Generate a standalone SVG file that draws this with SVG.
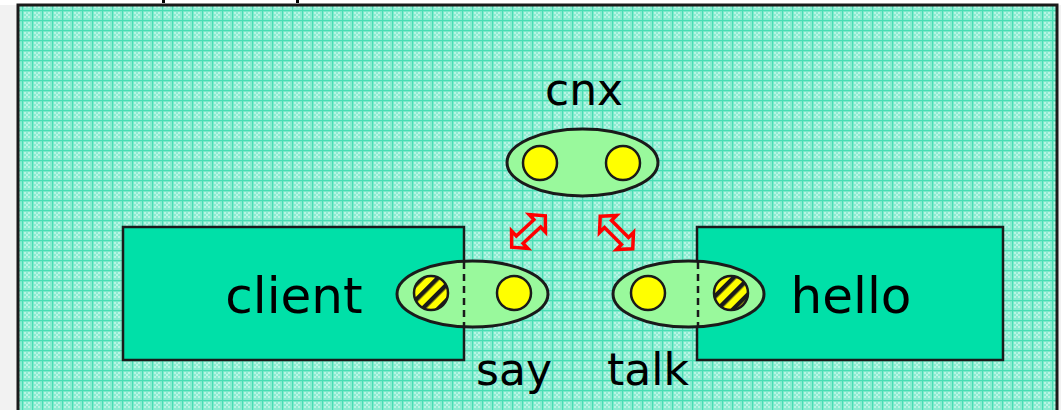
<svg xmlns="http://www.w3.org/2000/svg" width="1061" height="410" viewBox="0 0 1061 410">
  <style>
    .label { font-family: "DejaVu Sans", Verdana, sans-serif; fill: #000; }
    .box { fill: #00e0a8; stroke: #1a1a1a; stroke-width: 2.5; }
    .port { fill: #99f99c; stroke: #1a1a1a; stroke-width: 3; }
    .dot { fill: #ffff00; stroke: #1a1a1a; stroke-width: 2.5; }
    .hatched { fill: url(#stripes); stroke: #1a1a1a; stroke-width: 2.5; }
    .sep { stroke: #1a1a1a; stroke-width: 2.5; stroke-dasharray: 7 5; }
    .link { fill: none; stroke: #ff0000; stroke-width: 3.5; stroke-linejoin: miter; }
  </style>
  <defs>
    <!-- dithered mint grid used as the frame background -->
    <pattern id="grid" width="10" height="10" patternUnits="userSpaceOnUse" x="2" y="0">
      <rect width="10" height="10" fill="#8aecd1"/>
      <rect x="2" y="2" width="2" height="2" fill="#b8f5e4"/>
      <rect x="6" y="2" width="2" height="2" fill="#b8f5e4"/>
      <rect x="4" y="4" width="2" height="2" fill="#b8f5e4"/>
      <rect x="2" y="6" width="2" height="2" fill="#b8f5e4"/>
      <rect x="6" y="6" width="2" height="2" fill="#b8f5e4"/>
      <rect x="0" y="0" width="10" height="1.2" fill="#48ddb3"/>
      <rect x="0" y="0" width="1.2" height="10" fill="#48ddb3"/>
    </pattern>
    <!-- diagonal stripes for the required-interface marks -->
    <pattern id="stripes" width="11" height="11" patternUnits="userSpaceOnUse" patternTransform="translate(431,293) rotate(45)">
      <rect width="11" height="11" fill="#ffff00"/>
      <rect x="3" width="4.5" height="11" fill="#1a1a1a"/>
    </pattern>
    <!-- hollow double-headed arrow -->
    <polygon id="dbl" points="-23,0 -12,-12 -12,-5 12,-5 12,-12 23,0 12,12 12,5 -12,5 -12,12"/>
  </defs>

  <!-- page -->
  <rect width="1061" height="410" fill="#f2f2f2"/>
  <rect width="1061" height="5" fill="#ffffff"/>
  <rect x="162" y="0" width="3" height="3" fill="#000"/>
  <rect x="296" y="0" width="3" height="3" fill="#000"/>

  <!-- frame -->
  <rect x="18" y="5" width="1039" height="420" fill="url(#grid)" stroke="#1a1a1a" stroke-width="3"/>

  <!-- components -->
  <g id="client">
    <rect class="box" x="123" y="227" width="341" height="133"/>
    <text class="label" x="294" y="313" font-size="50" text-anchor="middle">client</text>
  </g>
  <g id="hello">
    <rect class="box" x="697" y="227" width="306" height="133"/>
    <text class="label" x="851" y="313" font-size="50" text-anchor="middle">hello</text>
  </g>

  <!-- connector component -->
  <g id="cnx">
    <ellipse class="port" cx="582.5" cy="162.5" rx="75.5" ry="33.5"/>
    <circle class="dot" cx="540" cy="163" r="17"/>
    <circle class="dot" cx="623" cy="163" r="17"/>
    <text class="label" x="584" y="105" font-size="44" text-anchor="middle">cnx</text>
  </g>

  <!-- port of client -->
  <g id="say">
    <ellipse class="port" cx="472.5" cy="294" rx="75.5" ry="33"/>
    <line class="sep" x1="464" y1="262" x2="464" y2="327"/>
    <circle class="hatched" cx="431" cy="293" r="17"/>
    <circle class="dot" cx="514" cy="293" r="17"/>
    <text class="label" x="514" y="385" font-size="44" text-anchor="middle">say</text>
  </g>

  <!-- port of hello -->
  <g id="talk">
    <ellipse class="port" cx="688.5" cy="294" rx="75.5" ry="33"/>
    <line class="sep" x1="698" y1="262" x2="698" y2="327"/>
    <circle class="dot" cx="648" cy="293" r="17"/>
    <circle class="hatched" cx="731" cy="293" r="17"/>
    <text class="label" x="648" y="385" font-size="44" text-anchor="middle">talk</text>
  </g>

  <!-- bindings -->
  <g id="connectors">
    <use href="#dbl" class="link" transform="translate(528.5,231.5) rotate(-43)"/>
    <use href="#dbl" class="link" transform="translate(616.5,232.5) rotate(45)"/>
  </g>
</svg>
